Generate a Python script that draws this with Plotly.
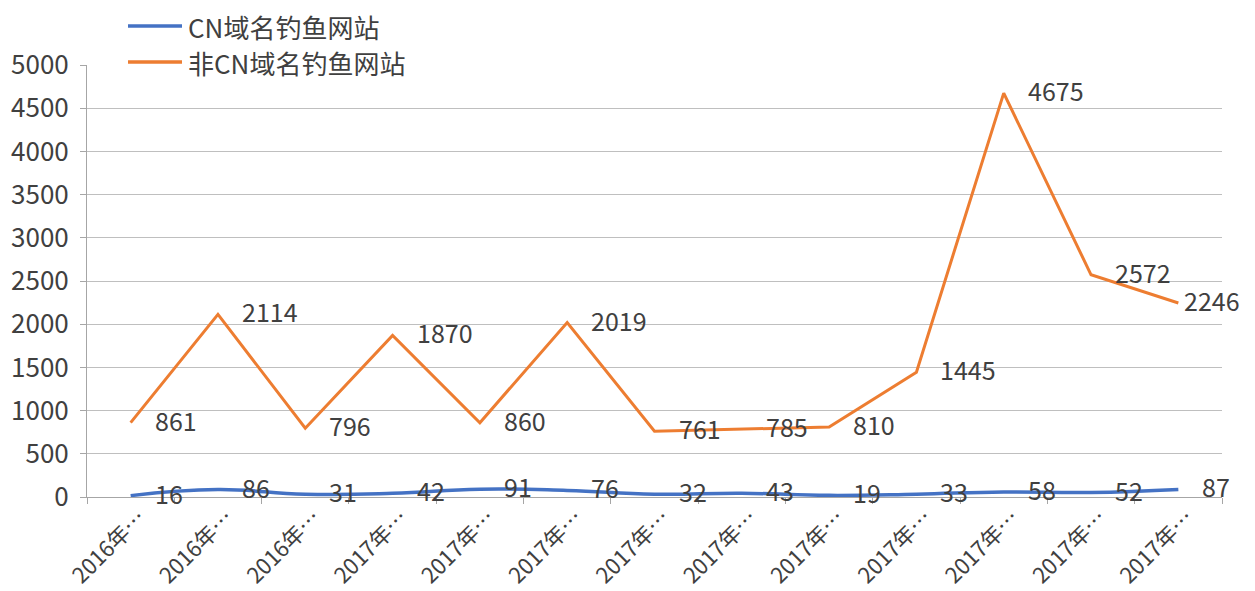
import plotly.graph_objects as go

categories = ["2016年10月", "2016年11月", "2016年12月", "2017年1月", "2017年2月", "2017年3月",
              "2017年4月", "2017年5月", "2017年6月", "2017年7月", "2017年8月", "2017年9月", "2017年10月"]
tick_labels = ["2016年…", "2016年…", "2016年…", "2017年…", "2017年…", "2017年…",
               "2017年…", "2017年…", "2017年…", "2017年…", "2017年…", "2017年…", "2017年…"]
series_names = ["CN域名钓鱼网站", "非CN域名钓鱼网站"]
cn_values = [16, 86, 31, 42, 91, 76, 32, 43, 19, 33, 58, 52, 87]
non_cn_values = [861, 2114, 796, 1870, 860, 2019, 761, 785, 810, 1445, 4675, 2572, 2246]

FONT = "Noto Sans CJK SC"
TXT = "#404040"
BLUE = "#4472C4"
ORANGE = "#ED7D31"
OFF = 8  # page body margin
W, H = 1255 - OFF, 591 - OFF
ML, MR, MT, MB = 87 - OFF, 33, 65 - OFF, 94
PW, PH = W - ML - MR, H - MT - MB

fig = go.Figure()
fig.add_trace(go.Scatter(x=categories, y=cn_values, mode="lines", name=series_names[0],
                         line=dict(color=BLUE, width=3.5, shape="spline", smoothing=1.3)))
fig.add_trace(go.Scatter(x=categories, y=non_cn_values, mode="lines", name=series_names[1],
                         line=dict(color=ORANGE, width=3)))

annotations = []
for vals in (cn_values, non_cn_values):
    n = len(vals)
    for i, (c, v) in enumerate(zip(categories, vals)):
        # the last orange label is pulled in to stay inside the chart, as in the reference
        shift = 4 if (vals is non_cn_values and i == n - 1) else 22
        annotations.append(dict(x=c, y=v, text=str(v), showarrow=False, xanchor="left", yanchor="middle",
                                xshift=shift, yshift=3, font=dict(family=FONT, size=25, color=TXT)))

# custom legend (long line samples like the reference); positions in page pixels
def px_x(p):
    return (p - OFF - ML) / PW

def px_y(p):
    return (H - MB - (p - OFF)) / PH

shapes = []
for i, (name, col) in enumerate(zip(series_names, [BLUE, ORANGE])):
    yc = 26 + 36 * i
    shapes.append(dict(type="line", xref="paper", yref="paper", x0=px_x(128), x1=px_x(182),
                       y0=px_y(yc), y1=px_y(yc), line=dict(color=col, width=3.5)))
    annotations.append(dict(xref="paper", yref="paper", x=px_x(186), y=px_y(yc), text=name,
                            showarrow=False, xanchor="left", yanchor="middle",
                            font=dict(family=FONT, size=26, color=TXT)))

fig.update_layout(
    width=W, height=H,
    margin=dict(l=ML, r=MR, t=MT, b=MB, autoexpand=False),
    paper_bgcolor="white", plot_bgcolor="white",
    font=dict(family=FONT, size=24, color=TXT),
    annotations=annotations,
    shapes=shapes,
    showlegend=False,
)
fig.update_xaxes(type="category", range=[-0.5, 12.5], tickvals=categories, ticktext=tick_labels,
                 tickangle=-45, automargin=False, ticklabelshift=9, ticklabelstandoff=-2,
                 tickson="boundaries", ticks="outside", ticklen=6, tickcolor="#A6A6A6",
                 showline=True, linecolor="#A6A6A6", linewidth=1, showgrid=False,
                 tickfont=dict(family=FONT, size=22, color=TXT))
fig.update_yaxes(range=[0, 5000], dtick=500, showgrid=True, gridcolor="#BFBFBF", gridwidth=1,
                 showline=True, linecolor="#A6A6A6", linewidth=1, ticks="outside", ticklen=6,
                 tickcolor="#A6A6A6", zeroline=False, automargin=False, ticklabelstandoff=6,
                 tickfont=dict(family=FONT, size=26, color=TXT))

fig.write_html("out.html")
